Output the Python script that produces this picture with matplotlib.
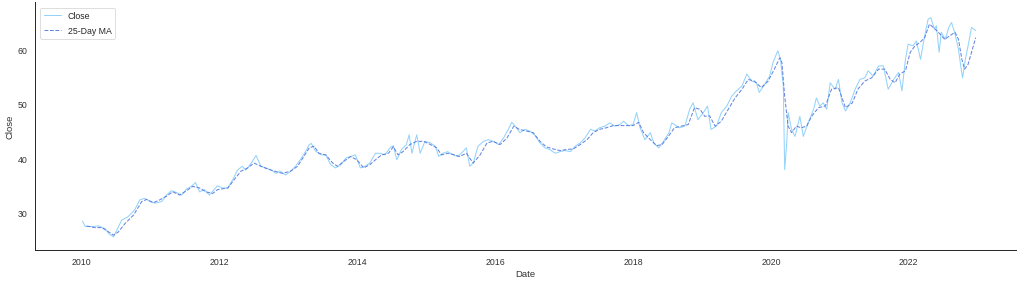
import matplotlib
matplotlib.use("Agg")
import matplotlib.pyplot as plt
import matplotlib.dates as mdates
import seaborn as sns
import pandas as pd

# ---- data (decimal years, values) ----
close_years = [
    2010.01, 2010.05, 2010.15, 2010.24, 2010.34, 2010.39, 2010.46, 2010.51, 2010.58, 2010.67,
    2010.77, 2010.84, 2010.91, 2010.99, 2011.06, 2011.16, 2011.23, 2011.30, 2011.37, 2011.45,
    2011.52, 2011.59, 2011.65, 2011.71, 2011.78, 2011.85, 2011.92, 2011.97, 2012.04, 2012.12,
    2012.19, 2012.26, 2012.33, 2012.38, 2012.46, 2012.53, 2012.60, 2012.67, 2012.75, 2012.82,
    2012.88, 2012.96, 2013.03, 2013.10, 2013.17, 2013.25, 2013.30, 2013.33, 2013.39, 2013.47,
    2013.54, 2013.61, 2013.68, 2013.76, 2013.83, 2013.90, 2013.97, 2014.04, 2014.11, 2014.18,
    2014.26, 2014.32, 2014.40, 2014.47, 2014.52, 2014.57, 2014.64, 2014.71, 2014.75, 2014.79,
    2014.86, 2014.91, 2014.98, 2015.06, 2015.13, 2015.18, 2015.24, 2015.31, 2015.39, 2015.46,
    2015.53, 2015.58, 2015.63, 2015.68, 2015.75, 2015.83, 2015.90, 2015.97, 2016.05, 2016.12,
    2016.19, 2016.24, 2016.29, 2016.36, 2016.43, 2016.50, 2016.57, 2016.65, 2016.72, 2016.79,
    2016.87, 2016.94, 2017.01, 2017.09, 2017.16, 2017.23, 2017.30, 2017.38, 2017.45, 2017.51,
    2017.59, 2017.66, 2017.73, 2017.81, 2017.86, 2017.93, 2018.00, 2018.05, 2018.10, 2018.17,
    2018.25, 2018.30, 2018.37, 2018.44, 2018.52, 2018.56, 2018.60, 2018.67, 2018.75, 2018.82,
    2018.87, 2018.94, 2019.02, 2019.08, 2019.13, 2019.21, 2019.28, 2019.36, 2019.43, 2019.50,
    2019.58, 2019.65, 2019.72, 2019.79, 2019.83, 2019.91, 2019.98, 2020.03, 2020.10, 2020.14,
    2020.18, 2020.20, 2020.23, 2020.25, 2020.30, 2020.35, 2020.42, 2020.47, 2020.54, 2020.62,
    2020.66, 2020.71, 2020.76, 2020.81, 2020.86, 2020.93, 2020.98, 2021.03, 2021.08, 2021.15,
    2021.22, 2021.29, 2021.36, 2021.41, 2021.48, 2021.56, 2021.63, 2021.70, 2021.78, 2021.85,
    2021.90, 2021.95, 2021.99, 2022.06, 2022.11, 2022.17, 2022.22, 2022.28, 2022.32, 2022.37,
    2022.40, 2022.44, 2022.47, 2022.53, 2022.58, 2022.62, 2022.67, 2022.72, 2022.76, 2022.78,
    2022.82, 2022.86, 2022.91, 2022.97,
]
close_values = [
    28.5, 27.5, 27.5, 27.6, 27.1, 26.2, 25.6, 26.9, 28.7, 29.3,
    30.6, 32.4, 32.7, 32.1, 31.8, 32.1, 33.3, 34.1, 33.8, 33.3,
    34.4, 34.9, 35.6, 33.9, 34.3, 33.3, 34.3, 35.0, 34.6, 34.6,
    36.1, 37.9, 38.6, 37.9, 39.2, 40.6, 38.6, 38.3, 37.9, 37.3,
    37.7, 37.0, 37.7, 38.6, 39.8, 41.4, 42.6, 42.8, 41.4, 40.7,
    40.7, 38.9, 38.3, 38.9, 40.1, 40.4, 40.7, 38.3, 38.6, 39.2,
    41.0, 41.0, 40.7, 42.0, 42.4, 39.8, 41.7, 42.6, 44.4, 41.0,
    44.4, 41.0, 43.2, 42.9, 42.3, 40.4, 41.0, 41.3, 40.7, 40.4,
    41.3, 42.0, 38.6, 39.2, 42.3, 43.2, 43.5, 43.2, 42.6, 43.8,
    45.4, 46.7, 46.0, 44.8, 45.4, 45.1, 44.4, 42.9, 42.0, 41.7,
    41.0, 41.3, 41.5, 41.3, 42.3, 42.9, 43.8, 45.4, 45.1, 45.7,
    46.0, 46.6, 46.0, 46.3, 46.9, 46.1, 46.3, 48.5, 45.7, 43.5,
    44.8, 42.9, 42.0, 43.2, 44.8, 46.6, 46.3, 45.7, 46.0, 49.1,
    50.3, 47.2, 48.5, 49.7, 45.4, 46.0, 48.5, 49.7, 51.5, 52.5,
    53.4, 55.6, 54.3, 54.0, 52.2, 53.7, 55.2, 57.7, 59.9, 58.3,
    53.4, 38.0, 42.9, 48.5, 45.4, 44.1, 47.8, 44.1, 46.6, 49.1,
    51.2, 49.7, 50.3, 49.1, 54.0, 52.8, 54.6, 50.3, 48.8, 50.3,
    52.8, 54.6, 54.9, 56.2, 55.2, 57.1, 57.1, 52.8, 54.6, 55.9,
    52.5, 58.3, 61.1, 60.8, 61.7, 58.3, 62.0, 65.7, 66.0, 63.9,
    64.5, 59.6, 63.3, 62.0, 64.2, 65.1, 63.0, 60.2, 56.5, 54.9,
    58.3, 60.8, 64.2, 63.6,
]

ma_years = [
    2010.07, 2010.19, 2010.29, 2010.39, 2010.46, 2010.53, 2010.63, 2010.75, 2010.87, 2010.94,
    2011.04, 2011.13, 2011.23, 2011.32, 2011.42, 2011.52, 2011.61, 2011.71, 2011.80, 2011.90,
    2011.97, 2012.12, 2012.21, 2012.31, 2012.41, 2012.50, 2012.60, 2012.70, 2012.80, 2012.91,
    2013.03, 2013.13, 2013.22, 2013.30, 2013.37, 2013.44, 2013.54, 2013.64, 2013.71, 2013.80,
    2013.90, 2013.99, 2014.09, 2014.18, 2014.28, 2014.35, 2014.45, 2014.52, 2014.59, 2014.66,
    2014.76, 2014.86, 2014.96, 2015.06, 2015.15, 2015.22, 2015.31, 2015.41, 2015.48, 2015.58,
    2015.68, 2015.78, 2015.88, 2015.97, 2016.07, 2016.17, 2016.27, 2016.35, 2016.45, 2016.55,
    2016.65, 2016.74, 2016.84, 2016.94, 2017.04, 2017.13, 2017.23, 2017.33, 2017.42, 2017.51,
    2017.61, 2017.71, 2017.81, 2017.90, 2018.00, 2018.08, 2018.15, 2018.25, 2018.34, 2018.42,
    2018.51, 2018.60, 2018.70, 2018.80, 2018.89, 2018.97, 2019.04, 2019.11, 2019.19, 2019.28,
    2019.38, 2019.48, 2019.58, 2019.67, 2019.76, 2019.86, 2019.96, 2020.05, 2020.13, 2020.16,
    2020.20, 2020.25, 2020.30, 2020.37, 2020.44, 2020.52, 2020.59, 2020.69, 2020.79, 2020.88,
    2020.98, 2021.08, 2021.18, 2021.26, 2021.36, 2021.46, 2021.56, 2021.65, 2021.73, 2021.80,
    2021.87, 2021.95, 2022.02, 2022.09, 2022.16, 2022.23, 2022.30, 2022.38, 2022.45, 2022.52,
    2022.60, 2022.67, 2022.72, 2022.77, 2022.81, 2022.86, 2022.97,
]
ma_values = [
    27.6, 27.3, 27.3, 26.5, 25.9, 26.5, 28.1, 29.6, 32.1, 32.5,
    31.9, 32.4, 33.1, 33.9, 33.3, 34.1, 34.9, 34.6, 33.9, 33.6,
    34.3, 34.6, 36.1, 37.7, 38.3, 39.2, 38.6, 38.1, 37.7, 37.3,
    37.7, 38.6, 40.4, 42.0, 42.3, 41.0, 40.7, 39.2, 38.6, 39.5,
    40.4, 39.8, 38.3, 38.9, 40.0, 40.7, 41.0, 42.2, 40.7, 41.3,
    42.6, 43.2, 43.2, 42.6, 42.0, 40.7, 41.0, 40.7, 40.4, 41.0,
    39.2, 40.7, 42.9, 43.2, 42.6, 43.8, 46.0, 45.4, 45.1, 44.8,
    43.2, 42.2, 41.8, 41.5, 41.7, 41.8, 42.6, 43.5, 44.8, 45.4,
    45.7, 46.1, 46.1, 46.1, 46.1, 46.7, 44.8, 43.5, 42.4, 42.6,
    44.1, 45.7, 46.0, 46.3, 49.4, 49.1, 47.8, 47.9, 46.0, 46.9,
    49.1, 51.2, 52.8, 54.6, 54.3, 53.1, 54.3, 56.5, 58.6, 57.7,
    51.5, 46.0, 44.8, 46.0, 45.7, 46.0, 47.8, 49.4, 49.7, 52.8,
    53.1, 49.4, 50.3, 52.8, 54.3, 54.9, 56.5, 56.5, 54.6, 54.0,
    55.6, 56.2, 59.6, 60.8, 61.4, 62.3, 64.8, 63.9, 63.0, 62.0,
    62.7, 63.3, 62.0, 58.3, 56.5, 57.4, 62.3,
]


def to_dates(years):
    out = []
    for y in years:
        yr = int(y)
        out.append(pd.Timestamp(yr, 1, 1) + pd.Timedelta(days=(y - yr) * 365.25))
    return pd.DatetimeIndex(out)


close_dates = to_dates(close_years)
ma_dates = to_dates(ma_years)

sns.set_theme(style="white", context="notebook")
plt.rcParams["font.family"] = ["Liberation Sans", "DejaVu Sans"]

fig, ax = plt.subplots(figsize=(18, 5), dpi=1024 / 18)
ax.plot(close_dates, close_values, color="#87CEFA", linewidth=1.3, alpha=0.9, label="Close")
ax.plot(ma_dates, ma_values, color="#4a6fdc", linewidth=1.3, linestyle="--", alpha=0.85,
        label="25-Day MA")

ax.set_xlabel("Date", fontsize=12, color="#333333")
ax.set_ylabel("Close", fontsize=12, color="#333333")
ax.tick_params(axis="both", labelsize=11, colors="#333333")
ax.xaxis.set_major_locator(mdates.YearLocator(2))
ax.xaxis.set_major_formatter(mdates.DateFormatter("%Y"))
ax.set_xlim(pd.Timestamp("2009-04-27"), pd.Timestamp("2023-07-22"))
ax.set_ylim(23.2, 68.8)
ax.set_yticks([30, 40, 50, 60])
ax.legend(loc="upper left", fontsize=11, labelspacing=0.7, borderaxespad=0.6)
sns.despine(ax=ax)
fig.subplots_adjust(left=0.034, right=0.992, bottom=0.12, top=0.99)
fig.savefig("out.png", dpi=1024 / 18)
